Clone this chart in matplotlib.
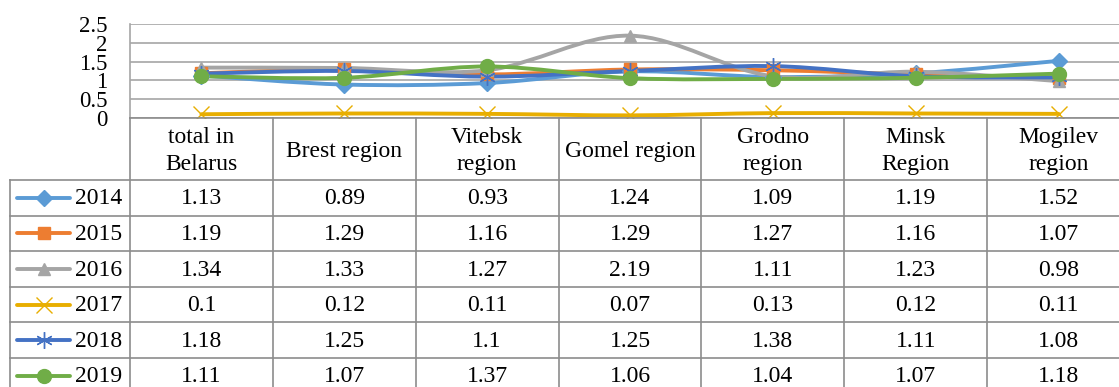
import numpy as np
import matplotlib.pyplot as plt
from matplotlib.path import Path
from matplotlib.patches import PathPatch

plt.rcParams['font.family'] = ['Liberation Serif', 'DejaVu Serif']

# Data
categories = ["total in\nBelarus", "Brest region", "Vitebsk\nregion", "Gomel region",
              "Grodno\nregion", "Minsk\nRegion", "Mogilev\nregion"]
years = ["2014", "2015", "2016", "2017", "2018", "2019"]
v2014 = [1.13, 0.89, 0.93, 1.24, 1.09, 1.19, 1.52]
v2015 = [1.19, 1.29, 1.16, 1.29, 1.27, 1.16, 1.07]
v2016 = [1.34, 1.33, 1.27, 2.19, 1.11, 1.23, 0.98]
v2017 = [0.1, 0.12, 0.11, 0.07, 0.13, 0.12, 0.11]
v2018 = [1.18, 1.25, 1.1, 1.25, 1.38, 1.11, 1.08]
v2019 = [1.11, 1.07, 1.37, 1.06, 1.04, 1.07, 1.18]
series = [v2014, v2015, v2016, v2017, v2018, v2019]

colors = ["#5B9BD5", "#ED7D31", "#A5A5A5", "#E8AE00", "#4472C4", "#70AD47"]
markers = ["D", "s", "^", "x", (6, 2, 0), "o"]
msizes = [8, 9, 9, 12, 12, 10]
medgew = [1, 1, 1, 1.0, 1.0, 1]

W, H = 1119, 387
fig = plt.figure(figsize=(W / 100, H / 100), dpi=100)

# pixel layout
x0, x1 = 130, 1130          # plot / table columns span (cropped on the right)
y_top, y_axis = 24, 118
col_w = (x1 - x0) / len(categories)
row_top = 180
row_h = 35.6

ax = fig.add_axes([x0 / W, (H - y_axis) / H, (x1 - x0) / W, (y_axis - y_top) / H])
ax.set_xlim(-0.5, len(categories) - 0.5)
ax.set_ylim(0, 2.5)
ax.set_yticks(np.arange(0, 2.51, 0.5))
ax.set_yticklabels(["0", "0.5", "1", "1.5", "2", "2.5"], fontsize=16.5)
ax.set_xticks([])
ax.tick_params(axis='y', length=0, pad=16)
ax.grid(axis='y', color='#A6A6A6', linewidth=1.2)
for s in ["top", "right", "bottom"]:
    ax.spines[s].set_visible(False)
ax.spines["left"].set_color('#A6A6A6')
ax.spines["left"].set_linewidth(1.2)
ax.set_axisbelow(True)


def smooth_path(xs, ys):
    # Bezier path through the data points (Excel-style smoothed line)
    pts = np.column_stack([xs, ys])
    n = len(pts)
    verts = [pts[0]]
    codes = [Path.MOVETO]
    for i in range(n - 1):
        p0 = pts[max(i - 1, 0)]
        p1 = pts[i]
        p2 = pts[i + 1]
        p3 = pts[min(i + 2, n - 1)]
        c1 = p1 + (p2 - p0) / 6
        c2 = p2 - (p3 - p1) / 6
        verts += [c1, c2, p2]
        codes += [Path.CURVE4] * 3
    return Path(verts, codes)


xs = np.arange(len(categories))
for vals, c, m, ms, mew in zip(series, colors, markers, msizes, medgew):
    patch = PathPatch(smooth_path(xs, vals), facecolor='none', edgecolor=c,
                      linewidth=2.8, capstyle='round', zorder=3)
    ax.add_patch(patch)
    ax.plot(xs, vals, linestyle='none', marker=m, markersize=ms, color=c,
            markeredgecolor=c, markeredgewidth=mew, zorder=4)

# data table
tb = fig.add_axes([0, 0, 1, 1])
tb.set_xlim(0, W)
tb.set_ylim(H, 0)
tb.axis('off')
gc = '#8C8C8C'
lw = 1.2
tb.plot([x0, x1], [y_axis, y_axis], color=gc, lw=lw)
for k in range(len(years)):
    y = row_top + k * row_h
    tb.plot([10, x1], [y, y], color=gc, lw=lw)
for j in range(len(categories) + 1):
    x = x0 + j * col_w
    tb.plot([x, x], [y_axis, H], color=gc, lw=lw)
tb.plot([10, 10], [row_top, H], color=gc, lw=lw)

for j, cat in enumerate(categories):
    tb.text(x0 + (j + 0.5) * col_w, (y_axis + row_top) / 2 + 2, cat, ha='center',
            va='center', fontsize=17, linespacing=1.32)

for k, (yr, vals, c, m, ms, mew) in enumerate(zip(years, series, colors, markers,
                                                   msizes, medgew)):
    yc = row_top + (k + 0.5) * row_h
    tb.plot([17, 70], [yc, yc], color=c, lw=2.8, solid_capstyle='round')
    tb.plot([43.5], [yc], marker=m, markersize=ms, color=c, markeredgewidth=mew)
    tb.text(75, yc + 1, yr, ha='left', va='center', fontsize=17)
    for j, v in enumerate(vals):
        tb.text(x0 + (j + 0.5) * col_w, yc + 1, f"{v:g}", ha='center',
                va='center', fontsize=17)

fig.savefig("out.png", dpi=100)
